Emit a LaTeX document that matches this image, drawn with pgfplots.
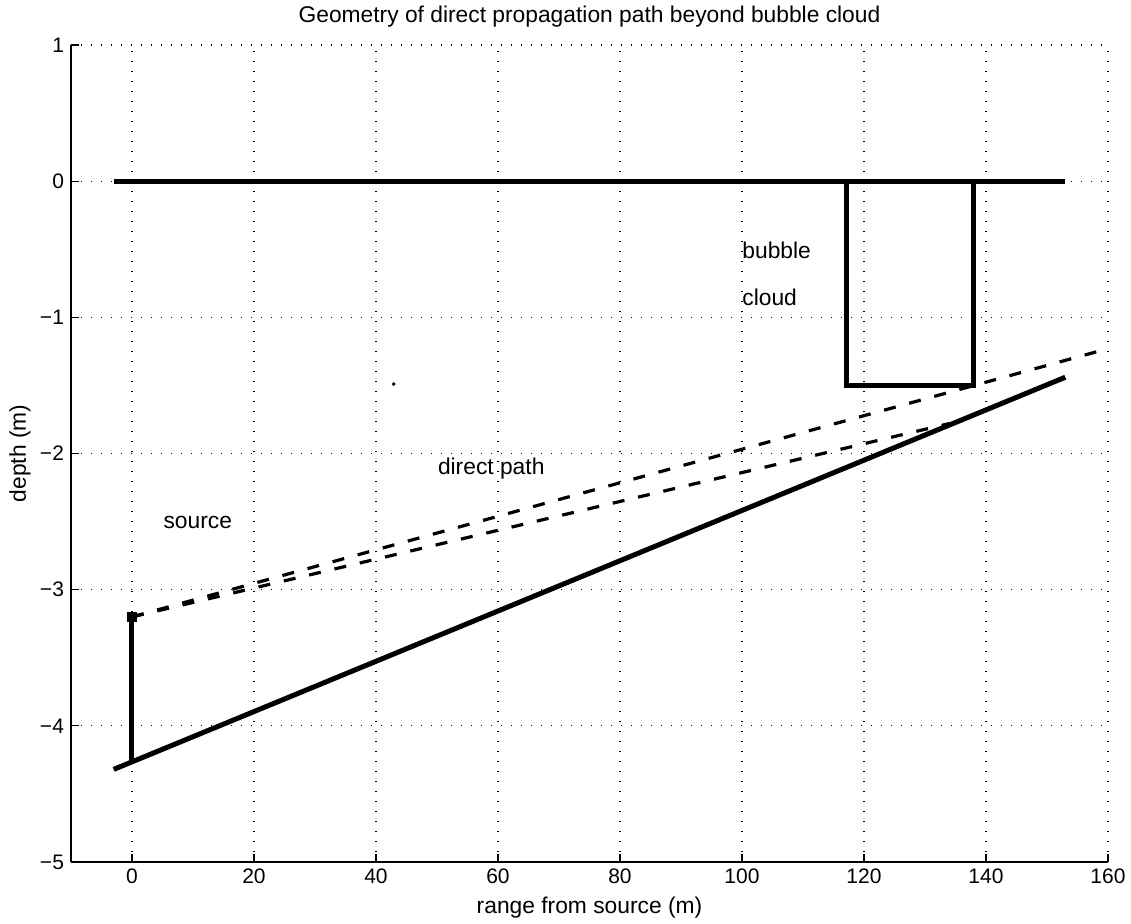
\documentclass[border=0pt]{standalone}
\usepackage{fontspec}
\setmainfont{Liberation Sans}
\usepackage{pgfplots}
\pgfplotsset{compat=1.18}
\newcommand\fs{\fontsize{10.5}{12.6}\selectfont}
\newcommand\ft{\fontsize{11.4}{13.6}\selectfont}
\begin{document}
\begin{tikzpicture}[font=\ft]
\begin{axis}[
    name=ax,
    scale only axis,
    width=518.5pt, height=408.5pt,
    xmin=-10, xmax=160,
    ymin=-5, ymax=1,
    xtick={0,20,...,160},
    xticklabels={0,20,40,60,80,100,120,140,160},
    ytick={-5,-4,...,1},
    yticklabels={−5,−4,−3,−2,−1,0,1},
    axis x line*=bottom,
    axis y line*=left,
    axis line style={-, line width=0.6pt},
    tick align=inside,
    major tick length=4pt,
    tick style={line width=0.6pt, black},
    grid=major,
    major grid style={line width=0.6pt, dash pattern=on 0.6pt off 4.4pt, black},
    ticklabel style={font=\fs},
    title={Geometry of direct propagation path beyond bubble cloud},
    title style={at={(axis description cs:0.5,1.0133)}, anchor=base, font=\ft},
    xlabel={range from source (m)},
    xlabel style={at={(axis description cs:0.5,-0.0636)}, anchor=base, font=\ft},
    ylabel={depth (m)},
    ylabel style={at={(axis description cs:-0.0492,0.5)}, anchor=center, font=\ft},
]
% sea surface
\addplot[black, line width=2.5pt] coordinates {(-3,0) (153,0)};
% bubble cloud
\addplot[black, line width=2.5pt] coordinates {(117.1,0) (117.1,-1.5) (137.9,-1.5) (137.9,0)};
% sea bed
\addplot[black, line width=2.5pt] coordinates {(-3,-4.32) (153,-1.44)};
% source mooring
\addplot[black, line width=2.5pt] coordinates {(0,-4.26) (0,-3.2)};
% direct paths
\addplot[black, line width=1.6pt, dash pattern=on 6pt off 7pt] coordinates {(0,-3.2) (160,-1.23)};
\addplot[black, line width=1.6pt, dash pattern=on 6pt off 7pt] coordinates {(0,-3.2) (134,-1.78)};
% source marker
\addplot[black, only marks, mark=square*, mark size=2.2pt] coordinates {(0,-3.2)};
% stray dot
\addplot[black, only marks, mark=*, mark size=0.7pt] coordinates {(42.9,-1.49)};
\node[anchor=west, inner sep=0pt] at (axis cs:100,-0.51) {bubble};
\node[anchor=west, inner sep=0pt] at (axis cs:100,-0.85) {cloud};
\node[anchor=west, inner sep=0pt] at (axis cs:50.1,-2.11) {direct path};
\node[anchor=west, inner sep=0pt] at (axis cs:5.1,-2.51) {source};
\end{axis}
\pgfresetboundingbox
\path ([shift={(-35.5pt,-31pt)}]ax.south west) rectangle ([shift={(11.5pt,22.5pt)}]ax.north east);
\end{tikzpicture}
\end{document}
